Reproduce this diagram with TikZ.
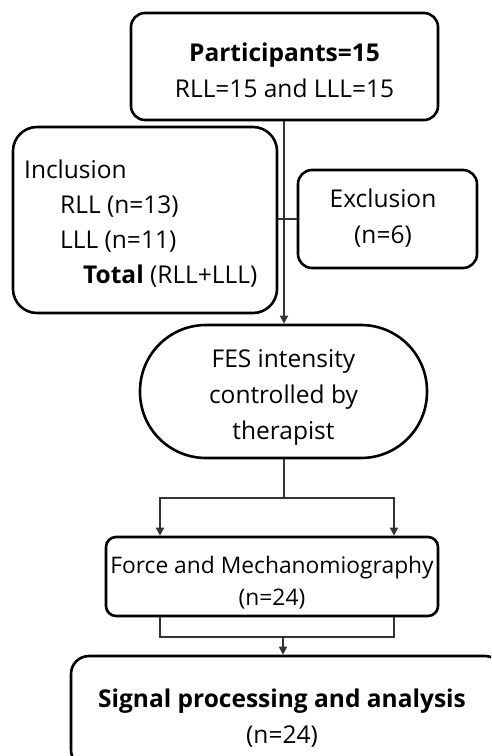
\documentclass[tikz,border=0pt]{standalone}
\usepackage{fontspec}
\setmainfont{Open Sans}
\usetikzlibrary{arrows.meta}
\begin{document}
\begin{tikzpicture}[x=1pt,y=-1pt,
  box/.style={draw=black,line width=2.6pt,rounded corners=14pt,inner sep=0pt},
  ctxt/.style={inner sep=0pt,align=center,font=\fontsize{24.5}{36}\selectfont},
  conn/.style={draw=black!80,line width=1.6pt},
  arr/.style={conn,-{Triangle[length=8pt,width=8pt]}},
  txt/.style={inner sep=0pt,anchor=base west,font=\fontsize{24.5}{36}\selectfont}]
\useasboundingbox (0,0) rectangle (491,756);
\clip (0,0) rectangle (491,756);
\node[box,minimum width=307pt,minimum height=107pt] (top) at (284.5,66.5) {};
\node[ctxt] (topT) at (284.5,70) {\textbf{Participants=15}\\RLL=15 and LLL=15};
\node[box,rounded corners=24pt,minimum width=264pt,minimum height=186pt] (incl) at (145,220) {};
\node[txt] (t1) at (24,178) {Inclusion};
\node[txt] (t2) at (60,213) {RLL (n=13)};
\node[txt] (t3) at (60,248) {LLL (n=11)};
\node[txt] (t4) at (83,283) {\textbf{Total} (RLL+LLL)};
\node[box,minimum width=179pt,minimum height=98pt] (excl) at (387.5,219) {};
\node[ctxt] (exclT) at (383,218.5) {Exclusion\\(n=6)};
\node[box,rounded corners=66pt,minimum width=287pt,minimum height=133pt] (fes) at (283.5,391.5) {};
\node[ctxt] (fesT) at (283.5,397.5) {FES intensity\\controlled by\\therapist};
\node[box,rounded corners=10pt,minimum width=332pt,minimum height=79pt] (force) at (272,576.5) {};
\node[ctxt,font=\fontsize{22.8}{32}\selectfont] (forceT) at (272,583) {Force and Mechanomiography\\(n=24)};
\node[box,rounded corners=18pt,minimum width=432pt,minimum height=112pt] (sig) at (287,712) {};
\node[ctxt] (sigT) at (282,718) {\textbf{Signal processing and analysis}\\(n=24)};
% connectors
\coordinate (j1) at (284,498);
\coordinate (j2) at (283,637);
\draw[arr] (top.south -| 284,0) -- (fes.north -| 284,0);
\draw[conn] (incl.east |- 0,219) -- (excl.west |- 0,219);
\draw[conn] (fes.south -| j1) -- (j1);
\draw[arr] (j1) -| (force.north -| 160,0);
\draw[arr] (j1) -| (force.north -| 394,0);
\draw[conn] (force.south -| 160,0) |- (j2) -| (force.south -| 394,0);
\draw[arr] (j2) -- (sig.north -| j2);
\end{tikzpicture}
\end{document}
